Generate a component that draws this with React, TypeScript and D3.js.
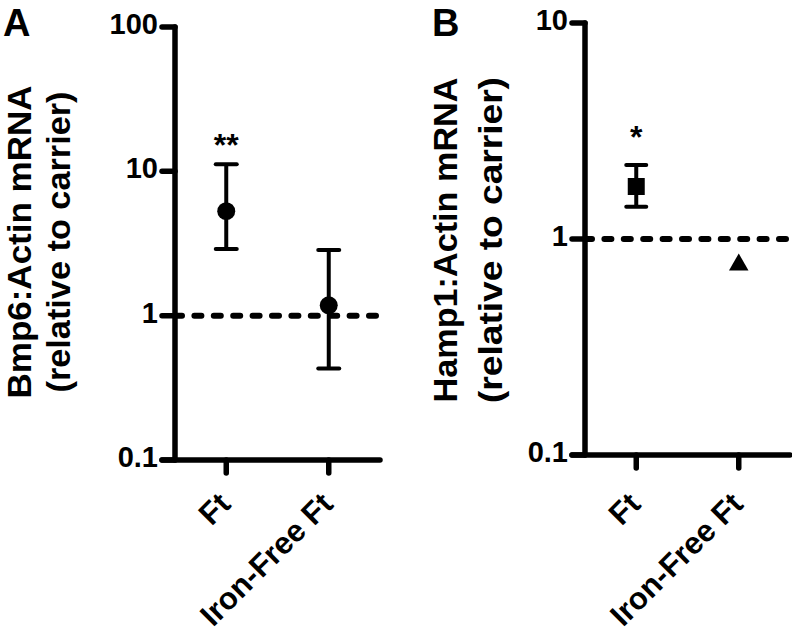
import React from "react";
import * as d3 from "d3";

const categories = ["Ft", "Iron-Free Ft"];

const bmp6Mean = [5.3, 1.18];
const bmp6Upper = [11.2, 2.85];
const bmp6Lower = [2.9, 0.43];
const bmp6Sig = ["**", ""];

const hamp1Mean = [1.75, 0.76];
const hamp1Upper = [2.2, 0.76];
const hamp1Lower = [1.41, 0.76];
const hamp1Sig = ["*", ""];

const yTicksA = [0.1, 1, 10, 100];
const yTicksB = [0.1, 1, 10];
const tickLabel = (v: number) => (v < 1 ? "0.1" : String(v));

const FONT = "'Liberation Sans', Arial, Helvetica, sans-serif";

type PanelProps = {
  letter: string;
  letterX: number;
  axisX: number;
  axisRight: number;
  top: number;
  bottom: number;
  domain: [number, number];
  ticks: number[];
  mean: number[];
  upper: number[];
  lower: number[];
  sig: string[];
  symbols: d3.SymbolType[];
  symbolSizes: number[];
  capW: number;
  title1: string;
  title2: string;
  t1x: number;
  t2x: number;
  t1len: number;
  t2len: number;
  titleY: number;
  tickLabelRight: number;
  sigOffset: number;
};

function Panel(p: PanelProps) {
  const y = d3.scaleLog().domain(p.domain).range([p.bottom, p.top]);
  const x = d3.scalePoint<string>().domain(categories).range([p.axisX, p.axisRight]).padding(0.5);
  const tickLen = 13;
  const sw = 5.5;
  return (
    <g>
      <text x={p.letterX} y={36} fontFamily={FONT} fontWeight="bold" fontSize={38}>{p.letter}</text>
      {/* y title */}
      <text transform={`translate(${p.t1x},${p.titleY}) rotate(-90)`} textAnchor="middle" fontFamily={FONT} fontWeight="bold" fontSize={34} textLength={p.t1len} lengthAdjust="spacingAndGlyphs">{p.title1}</text>
      <text transform={`translate(${p.t2x},${p.titleY}) rotate(-90)`} textAnchor="middle" fontFamily={FONT} fontWeight="bold" fontSize={34} textLength={p.t2len} lengthAdjust="spacingAndGlyphs">{p.title2}</text>
      {/* reference line at 1 */}
      <line x1={p.axisX} x2={p.axisRight} y1={y(1)} y2={y(1)} stroke="#000" strokeWidth={6} strokeLinecap="round" strokeDasharray="7 12.4" />
      {/* y axis */}
      <line x1={p.axisX} x2={p.axisX} y1={p.top} y2={p.bottom} stroke="#000" strokeWidth={sw} strokeLinecap="round" />
      {p.ticks.map((t) => (
        <g key={t}>
          <line x1={p.axisX - tickLen} x2={p.axisX} y1={y(t)} y2={y(t)} stroke="#000" strokeWidth={sw} strokeLinecap="round" />
          <text x={p.tickLabelRight} y={y(t) + 7} textAnchor="end" fontFamily={FONT} fontWeight="bold" fontSize={29}>{tickLabel(t)}</text>
        </g>
      ))}
      {/* x axis */}
      <line x1={p.axisX - tickLen} x2={p.axisRight} y1={p.bottom} y2={p.bottom} stroke="#000" strokeWidth={sw} strokeLinecap="round" />
      {categories.map((c) => (
        <g key={c}>
          <line x1={x(c)} x2={x(c)} y1={p.bottom} y2={p.bottom + tickLen} stroke="#000" strokeWidth={sw} strokeLinecap="round" />
          <text transform={`translate(${(x(c) as number) + 6},${506}) rotate(-45)`} textAnchor="end" fontFamily={FONT} fontWeight="bold" fontSize={31}>{c}</text>
        </g>
      ))}
      {/* error bars & markers */}
      {categories.map((c, i) => {
        const cx = x(c) as number;
        const sym = d3.symbol().type(p.symbols[i]).size(p.symbolSizes[i])();
        const hasErr = p.upper[i] !== p.lower[i];
        return (
          <g key={c}>
            {hasErr && (
              <g>
                <line x1={cx} x2={cx} y1={y(p.upper[i])} y2={y(p.lower[i])} stroke="#000" strokeWidth={4} />
                <line x1={cx - p.capW / 2} x2={cx + p.capW / 2} y1={y(p.upper[i])} y2={y(p.upper[i])} stroke="#000" strokeWidth={4} strokeLinecap="round" />
                <line x1={cx - p.capW / 2} x2={cx + p.capW / 2} y1={y(p.lower[i])} y2={y(p.lower[i])} stroke="#000" strokeWidth={4} strokeLinecap="round" />
              </g>
            )}
            <path d={sym as string} transform={`translate(${cx},${y(p.mean[i])})`} fill="#000" />
            {p.sig[i] && (
              <text x={cx} y={y(p.upper[i]) - p.sigOffset} textAnchor="middle" fontFamily={FONT} fontWeight="bold" fontSize={32}>{p.sig[i]}</text>
            )}
          </g>
        );
      })}
    </g>
  );
}

export default function App() {
  return (
    <svg width={792} height={632} style={{ position: "absolute", left: 0, top: 0, background: "#fff" }}>
      <rect width={792} height={632} fill="#fff" />
      <Panel
        letter="A" letterX={3} axisX={175} axisRight={380} top={27} bottom={460}
        domain={[0.1, 100]} ticks={yTicksA}
        mean={bmp6Mean} upper={bmp6Upper} lower={bmp6Lower} sig={bmp6Sig}
        symbols={[d3.symbolCircle, d3.symbolCircle]} symbolSizes={[254, 254]} capW={21}
        title1="Bmp6:Actin mRNA" title2="(relative to carrier)"
        t1x={31} t2x={70} t1len={313} t2len={301} titleY={242}
        tickLabelRight={158} sigOffset={8}
      />
      <Panel
        letter="B" letterX={432} axisX={585} axisRight={790} top={23} bottom={455}
        domain={[0.1, 10]} ticks={yTicksB}
        mean={hamp1Mean} upper={hamp1Upper} lower={hamp1Lower} sig={hamp1Sig}
        symbols={[d3.symbolSquare, d3.symbolTriangle]} symbolSizes={[289, 165]} capW={20}
        title1="Hamp1:Actin mRNA" title2="(relative to carrier)"
        t1x={457} t2x={502} t1len={325} t2len={326} titleY={240}
        tickLabelRight={568} sigOffset={17}
      />
    </svg>
  );
}
